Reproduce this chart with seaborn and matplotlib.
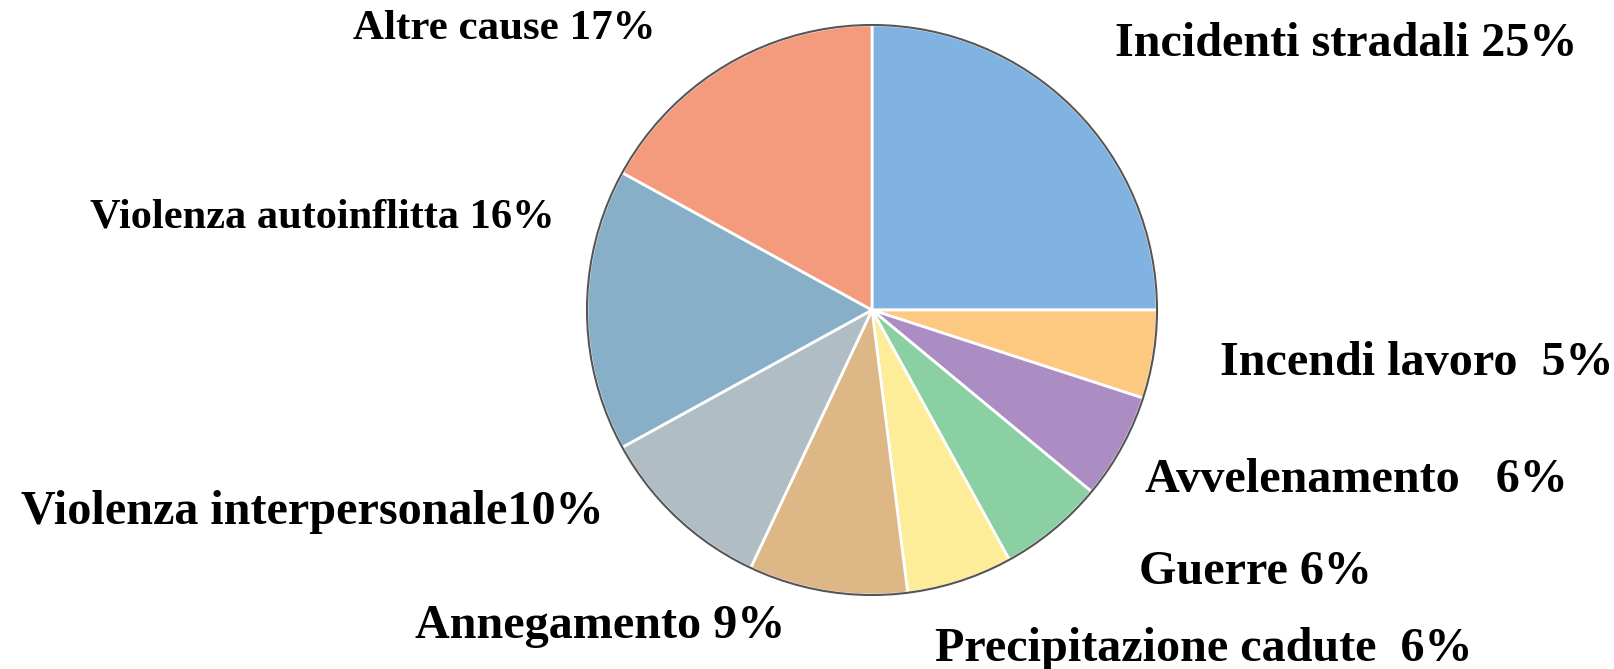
import matplotlib
matplotlib.use("Agg")
import matplotlib.pyplot as plt
import seaborn as sns
from matplotlib.patches import Circle

sns.set_theme(style="white")
plt.rcParams['font.family'] = ['Liberation Serif', 'DejaVu Serif']

categories = ["Incidenti stradali", "Incendi lavoro", "Avvelenamento", "Guerre",
              "Precipitazione cadute", "Annegamento", "Violenza interpersonale",
              "Violenza autoinflitta", "Altre cause"]
values = [25, 5, 6, 6, 6, 9, 10, 16, 17]
labels = ["Incidenti stradali 25%", "Incendi lavoro  5%", "Avvelenamento   6%",
          "Guerre 6%", "Precipitazione cadute  6%", "Annegamento 9%",
          "Violenza interpersonale10%", "Violenza autoinflitta 16%", "Altre cause 17%"]
colors = ["#80B3E1", "#FDC87F", "#AB8DC3", "#8BD0A2", "#FDEC98", "#DDB786",
          "#B1BDC5", "#88AFC8", "#F59B7D"]

W, H = 1614, 669
fig = plt.figure(figsize=(W / 100, H / 100), dpi=100)
ax = fig.add_axes([0, 0, 1, 1])

cx, cy, r = 872, H - 310, 285
ax.pie(values, colors=colors, startangle=90, counterclock=False,
       center=(cx, cy), radius=r, frame=True,
       wedgeprops=dict(edgecolor="white", linewidth=2))
ax.add_patch(Circle((cx, cy), r, fill=False, edgecolor="#555555", linewidth=1.5))
ax.set_xlim(0, W)
ax.set_ylim(0, H)
ax.set_aspect('equal')
ax.axis('off')

# label anchor positions (left x, center y in pixel coords from top) and font sizes
label_pos = [(1115, 44), (1220, 363), (1145, 480), (1139, 572), (935, 649),
             (415, 626), (21, 512), (90, 218), (353, 29)]
label_size = [34.7, 34.7, 34.7, 34.7, 34.7, 34.7, 34.7, 30.5, 31]
for lab, (x, y), fs in zip(labels, label_pos, label_size):
    ax.text(x, H - y, lab, ha="left", va="center", fontsize=fs,
            fontweight="bold", color="black")

fig.savefig("out.png", dpi=100)
